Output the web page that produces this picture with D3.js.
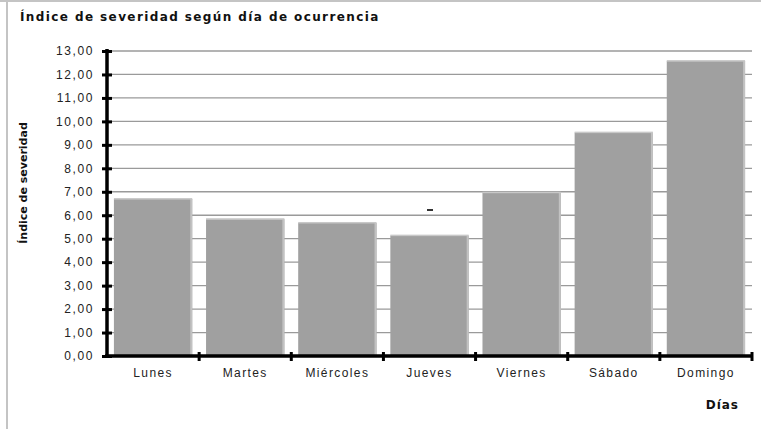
<!DOCTYPE html>
<html>
<head>
<meta charset="utf-8">
<script src="https://d3js.org/d3.v7.min.js"></script>
<style>
body{margin:0;background:#fff;}
svg{display:block;font-family:"DejaVu Sans",Verdana,sans-serif;}
</style>
</head>
<body>
<svg id="chart" width="761" height="429"></svg>
<script>
const categories = ["Lunes","Martes","Miércoles","Jueves","Viernes","Sábado","Domingo"];
const values = [6.69, 5.83, 5.67, 5.13, 6.96, 9.52, 12.57];
const yTicks = [0,1,2,3,4,5,6,7,8,9,10,11,12,13];
const titleText = "Índice de severidad según día de ocurrencia";
const yTitle = "Índice de severidad";
const xTitle = "Días";

const svg = d3.select("#chart");
const W = 761, H = 429;

// frame
svg.append("line").attr("x1",0).attr("x2",W).attr("y1",1).attr("y2",1).attr("stroke","#c4c4c4").attr("stroke-width",2);
svg.append("line").attr("x1",7).attr("x2",7).attr("y1",0).attr("y2",H).attr("stroke","#c4c4c4").attr("stroke-width",2);

const x = d3.scaleBand().domain(categories).range([107,752]).paddingInner(0.15).paddingOuter(0.075);
const y = d3.scaleLinear().domain([0,13]).range([356,51]);

// gridlines
svg.append("g").selectAll("line").data(yTicks.filter(d=>d>0)).join("line")
  .attr("x1",107).attr("x2",752).attr("y1",d=>y(d)).attr("y2",d=>y(d))
  .attr("stroke","#9a9a9a").attr("stroke-width",1.3);

// bars
const bars = svg.append("g");
bars.selectAll("rect.bar").data(values).join("rect").attr("class","bar")
  .attr("x",(d,i)=>x(categories[i])).attr("width",x.bandwidth())
  .attr("y",d=>y(d)).attr("height",d=>y(0)-y(d))
  .attr("fill","#a0a0a0");
bars.selectAll("rect.edge").data(values).join("rect").attr("class","edge")
  .attr("x",(d,i)=>x(categories[i])+x.bandwidth()-2).attr("width",2)
  .attr("y",d=>y(d)).attr("height",d=>y(0)-y(d))
  .attr("fill","#c2c2c2");
bars.selectAll("rect.top").data(values).join("rect").attr("class","top")
  .attr("x",(d,i)=>x(categories[i])).attr("width",x.bandwidth())
  .attr("y",d=>y(d)-1).attr("height",1.5)
  .attr("fill","#c8c8c8");

// stray dash
svg.append("rect").attr("x",427).attr("y",209).attr("width",6).attr("height",2).attr("fill","#333");

// y axis
const yAxis = d3.axisLeft(y).tickValues(yTicks).tickSize(0).tickPadding(13)
  .tickFormat(d=>d3.format(".2f")(d).replace(".",","));
const gy = svg.append("g").attr("transform","translate(107,0)").call(yAxis);
gy.select(".domain").remove();
gy.selectAll("text").attr("font-size",12).attr("fill","#222").attr("letter-spacing","1.6px");
gy.selectAll(".tick").append("line").attr("x1",-5).attr("x2",5).attr("stroke","#000").attr("stroke-width",3);
svg.append("line").attr("x1",107).attr("x2",107).attr("y1",49).attr("y2",358).attr("stroke","#000").attr("stroke-width",3.5);

// x axis
const xAxis = d3.axisBottom(x).tickSize(0).tickPadding(12);
const gx = svg.append("g").attr("transform","translate(0,356)").call(xAxis);
gx.select(".domain").remove();
gx.selectAll("text").attr("font-size",12).attr("fill","#222").attr("letter-spacing","1.4px");
svg.append("line").attr("x1",105).attr("x2",753).attr("y1",356).attr("y2",356).attr("stroke","#000").attr("stroke-width",3.5);
const bounds = categories.map((c,i)=>x(c)+x.bandwidth()+x.step()*x.paddingInner()/2);
svg.append("g").selectAll("line").data(bounds).join("line")
  .attr("x1",d=>d).attr("x2",d=>d).attr("y1",352).attr("y2",361)
  .attr("stroke","#000").attr("stroke-width",3);

// titles
svg.append("text").attr("x",20).attr("y",21).attr("font-size",12).attr("font-weight","bold")
  .attr("letter-spacing","1.4px").attr("fill","#111").text(titleText);
svg.append("text").attr("transform","translate(27,183) rotate(-90)").attr("text-anchor","middle")
  .attr("font-size",11).attr("font-weight","bold").attr("fill","#111").text(yTitle);
svg.append("text").attr("x",739).attr("y",409).attr("text-anchor","end").attr("font-size",12)
  .attr("font-weight","bold").attr("letter-spacing","1px").attr("fill","#111").text(xTitle);
</script>
</body>
</html>
